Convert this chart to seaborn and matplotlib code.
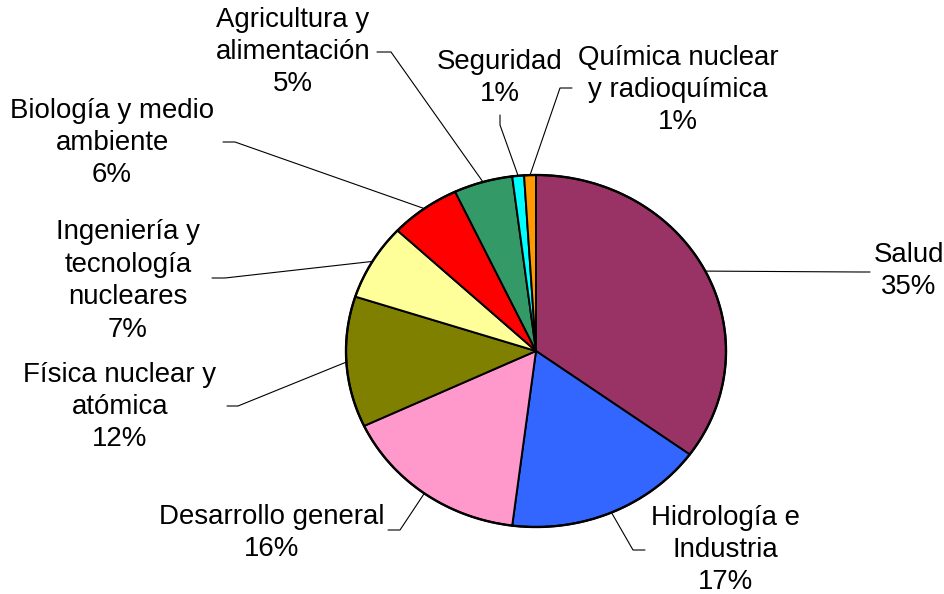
import matplotlib
matplotlib.use("Agg")
import matplotlib.pyplot as plt
import seaborn as sns
import numpy as np

categories = ["Salud", "Hidrología e\nIndustria", "Desarrollo general",
              "Física nuclear y\natómica", "Ingeniería y\ntecnología\nnucleares",
              "Biología y medio\nambiente", "Agricultura y\nalimentación",
              "Seguridad", "Química nuclear\ny radioquímica"]
values = [35, 17, 16, 12, 7, 6, 5, 1, 1]
colors = ["#993366", "#3366FF", "#FF99CC", "#808000", "#FFFF99",
          "#FF0000", "#339966", "#00FFFF", "#FF9900"]

sns.set_theme(style="white")
plt.rcParams["font.family"] = ["Liberation Sans", "DejaVu Sans"]

W, H = 945, 594
fig = plt.figure(figsize=(W / 100, H / 100), dpi=100)
ax = fig.add_axes([0, 0, 1, 1])

# pixel geometry of the pie (layout)
CX, CY, RX, RY = 536.0, 351.0, 190.0, 176.0

def px(x, y):
    return ((x - CX) / RX, (CY - y) / RY)

wedges, _ = ax.pie(values, colors=colors, startangle=90, counterclock=False,
                   radius=1.0, center=(0, 0), normalize=True, frame=True,
                   wedgeprops=dict(edgecolor="black", linewidth=1.4))
ax.set_xlim(-CX / RX, (W - CX) / RX)
ax.set_ylim(-(H - CY) / RY, CY / RY)
ax.set_aspect("auto")
ax.axis("off")
# thicker outer outline
theta = np.linspace(0, 2 * np.pi, 400)
ax.plot(np.cos(theta), np.sin(theta), color="black", lw=1.7, zorder=5)

# label layout: text center (px), elbow point (px), end point (px)
label_pos = [(909, 271), (725, 550), (272, 533), (120, 407), (128, 281),
             (112, 143), (293, 52), (500, 78), (678, 90)]
elbows = [(860, 272), (633, 550), (400, 530), (238, 406), (225, 278),
          (235, 142), (391, 52), (500, 125), (560, 88)]
ends = [(870, 272), (645, 550), (388, 530), (227, 406), (212, 278),
        (223, 142), (377, 52), (500, 115), (572, 88)]

total = sum(values)
cum = 0
for i, (cat, v) in enumerate(zip(categories, values)):
    mid = (cum + v / 2) / total * 2 * np.pi
    cum += v
    sx, sy = np.sin(mid), np.cos(mid)
    ex, ey = px(*elbows[i])
    tx, ty = px(*ends[i])
    ax.plot([sx, ex, tx], [sy, ey, ty], color="black", lw=0.8, zorder=1,
            solid_joinstyle="miter")
    lx, ly = px(*label_pos[i])
    ax.text(lx, ly, f"{cat}\n{v}%", ha="center", va="center",
            multialignment="center", fontsize=19.9, color="black",
            linespacing=1.32)

fig.savefig("out.png", dpi=100, facecolor="white")
